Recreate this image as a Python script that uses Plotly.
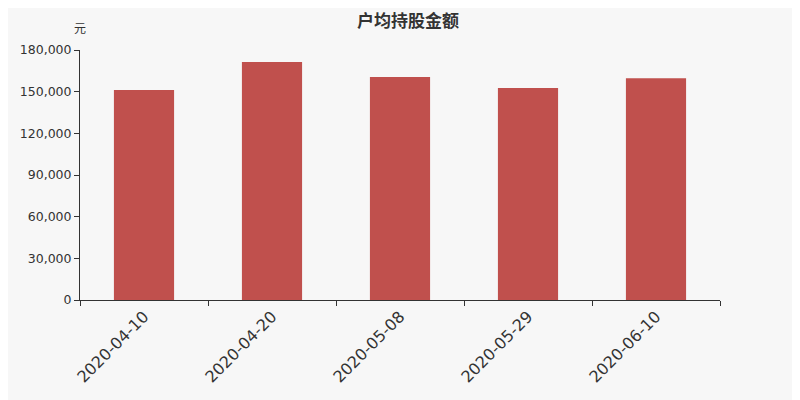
import plotly.graph_objects as go

dates = ["2020-04-10", "2020-04-20", "2020-05-08", "2020-05-29", "2020-06-10"]
values = [151200, 171300, 160500, 152600, 159600]
y_ticks = [0, 30000, 60000, 90000, 120000, 150000, 180000]

fig = go.Figure()
fig.add_trace(go.Bar(x=dates, y=values, marker=dict(color="#c0504d", line=dict(width=0))))

font_family = "DejaVu Sans, Noto Sans CJK SC"
fig.update_layout(
    width=800, height=400,
    paper_bgcolor="#f7f7f7", plot_bgcolor="#f7f7f7",
    margin=dict(l=72, r=88, t=42, b=108),
    bargap=0.53,
    showlegend=False,
    title=dict(text="<b>户均持股金额</b>", x=0.5, xanchor="center", y=1, yanchor="top",
               pad=dict(t=7),
               font=dict(family="Noto Sans CJK SC", size=17, color="#333333")),
    font=dict(family=font_family, color="#333333"),
)
fig.update_xaxes(
    type="category", tickangle=-45, tickfont=dict(size=16, color="#333333"),
    showline=True, linecolor="#333333", linewidth=1,
    ticks="outside", tickson="boundaries", ticklen=5, tickcolor="#333333",
    showgrid=False,
)
fig.update_yaxes(
    range=[0, 180000], tickvals=y_ticks, tickformat=",d",
    tickfont=dict(size=12.5, color="#333333"),
    showline=True, linecolor="#333333", linewidth=1,
    ticks="outside", ticklen=5, tickcolor="#333333",
    showgrid=False, zeroline=False,
)
fig.add_annotation(text="元", xref="paper", yref="paper", x=0, y=1.088, xanchor="center", yanchor="middle",
                   showarrow=False, font=dict(family="Noto Sans CJK SC", size=12, color="#333333"))
fig.write_html("out.html")
